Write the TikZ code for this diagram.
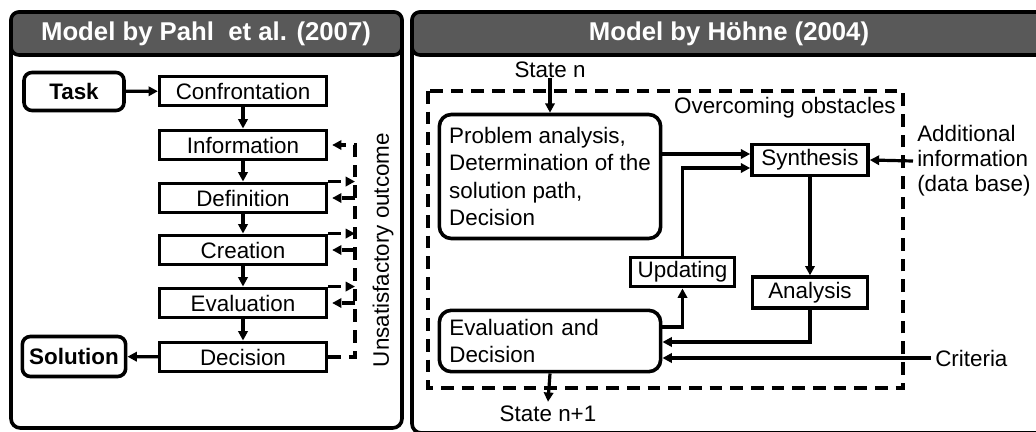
\documentclass[tikz,border=0pt]{standalone}
\usepackage{fontspec}
\setmainfont{Liberation Sans}
\usetikzlibrary{arrows.meta,calc}
\definecolor{hdr}{HTML}{595959}
\begin{document}
\begin{tikzpicture}[x=0.75pt,y=-0.75pt,
  lw/.style={line width=2.7pt},
  alw/.style={line width=2.4pt},
  panel/.style={draw, lw, rounded corners=7pt},
  hdrbox/.style={draw, lw, fill=hdr, rounded corners=6pt},
  hdrtext/.style={text=white, inner sep=0pt, font=\bfseries\fontsize{19.3}{23}\selectfont},
  txt/.style={inner sep=0pt, font=\fontsize{16.8}{20}\selectfont},
  sbox/.style={draw, lw, txt},
  pbox/.style={sbox, minimum width=125pt, minimum height=22pt},
  rbox/.style={sbox, rounded corners=6pt},
  bigbox/.style={sbox, rounded corners=9pt, minimum width=166pt},
  arr/.style={alw, -{Triangle[length=7pt,width=7pt]}},
  dsh/.style={line width=2.6pt, dash pattern=on 9.5pt off 6pt},
]
\useasboundingbox (0,0) rectangle (1036,432);
\begin{scope}
\clip (0,0) rectangle (1036,432);
% left panel
\draw[panel] (11,12) rectangle (402,428);
\draw[hdrbox] (11,12) rectangle (402,55);
% right panel
\draw[panel] (412,12) rectangle (1050,433);
\draw[hdrbox] (412,12) rectangle (1050,55);
\end{scope}
\node[hdrtext] (h1) at (206,34) {Model by Pahl\ \ et al. (2007)};
\node[hdrtext] (h2) at (729,34) {Model by Höhne (2004)};

% ---- left model
\node[pbox] (conf) at (243,91) {Confrontation};
\node[pbox] (inf) at (243,145) {Information};
\node[pbox] (def) at (243,198) {Definition};
\node[pbox] (cre) at (243,250) {Creation};
\node[pbox] (eva) at (243,303) {Evaluation};
\node[pbox] (dec) at (243,357) {Decision};
\node[rbox, font=\bfseries\fontsize{16.8}{20}\selectfont, minimum width=75pt, minimum height=28.5pt] (task) at (74,91.5) {Task};
\node[rbox, font=\bfseries\fontsize{16.8}{20}\selectfont, minimum width=77.5pt, minimum height=30pt] (sol) at (74,356.5) {Solution};

\draw[arr] (task) -- (conf);
\foreach \a/\b in {conf/inf, inf/def, def/cre, cre/eva, eva/dec}
  \draw[arr] (\a) -- (\b);
\draw[arr] (dec) -- (sol);

\coordinate (fbt) at (355,145);
\coordinate (fbb) at (355,357);
\draw[dsh, arr, shorten >=3pt] (dec.east) -- (fbb) -- (fbt) -- (inf.east);
\foreach \x in {def, cre, eva} {
  \draw[dsh, arr, shorten >=3pt] (fbt |- \x.east) -- (\x.east);
  \draw[dsh, arr] (\x.north east) -- (fbt |- \x.north east);
}
\node[txt, rotate=90] (uo) at (383,250) {Unsatisfactory outcome};

% ---- right model
\draw[dsh] (428,91) rectangle (903,388);
\node[txt] (sn) at (550,70) {State n};
\node[txt, anchor=east] (oo) at (896,108) {Overcoming obstacles};
\node[bigbox, align=left, minimum height=93pt, font=\fontsize{16.8}{20.6}\selectfont] (prob) at (550,176.5)
  {Problem analysis,\\Determination of the\\solution path,\\Decision};
\node[bigbox, align=left, minimum height=46pt, inner xsep=7.5pt, text width=151pt] (evd) at (550,341) {Evaluation and\\Decision};
\node[sbox, minimum width=87pt, minimum height=23.5pt] (syn) at (810,160) {Synthesis};
\node[sbox, minimum width=86.5pt, minimum height=23pt] (ana) at (810,292.5) {Analysis};
\node[sbox, minimum width=78pt, minimum height=22pt] (upd) at (682.5,272) {Updating};
\node[txt, inner sep=3pt] (sn1) at (548,414) {State n+1};
\node[txt, anchor=west, inner xsep=3pt] (crit) at (931,358) {Criteria};
\node[txt, align=left, anchor=west, inner xsep=3pt, font=\fontsize{16.8}{18.8}\selectfont] (add) at (913,161) {Additional\\information\\(data base)};

\draw[arr] (sn) -- (prob.north);
\draw[arr] (prob.east |- 0,154) -- (syn.west |- 0,154);
\draw[arr] (upd.north) |- (syn.west |- 0,168);
\draw[arr] (syn) -- (ana);
\draw[arr] (ana.south) |- (evd.east |- 0,342);
\draw[arr] (crit.west) -- (evd.east |- crit.west);
\draw[arr] (evd.east |- 0,327) -| (upd.south);
\draw[arr] (evd.south) -- (sn1.north);
\draw[arr] (add.west) -- (syn.east);
\end{tikzpicture}
\end{document}
